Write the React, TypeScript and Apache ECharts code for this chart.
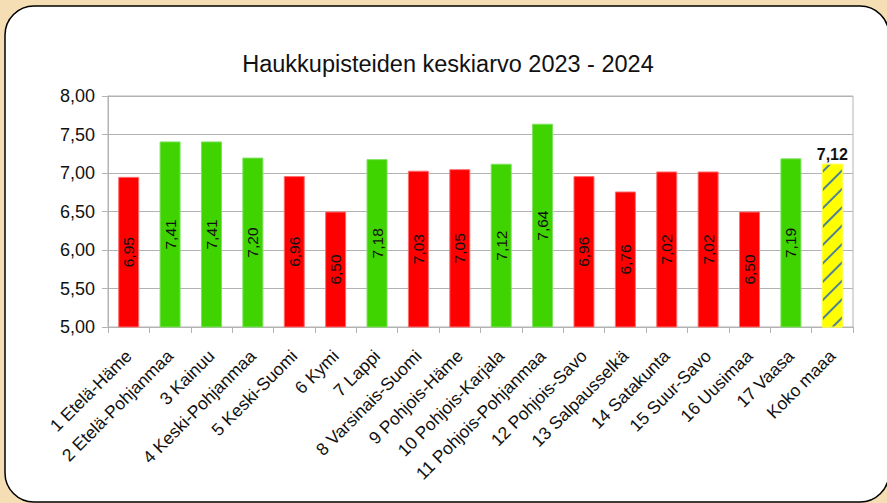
import React, { useEffect, useRef } from "react";
import * as echarts from "echarts";

const title = "Haukkupisteiden keskiarvo 2023 - 2024";
const categories = [
  "1 Etelä-Häme",
  "2 Etelä-Pohjanmaa",
  "3 Kainuu",
  "4 Keski-Pohjanmaa",
  "5 Keski-Suomi",
  "6 Kymi",
  "7 Lappi",
  "8 Varsinais-Suomi",
  "9 Pohjois-Häme",
  "10 Pohjois-Karjala",
  "11 Pohjois-Pohjanmaa",
  "12 Pohjois-Savo",
  "13 Salpausselkä",
  "14 Satakunta",
  "15 Suur-Savo",
  "16 Uusimaa",
  "17 Vaasa",
  "Koko maaa",
];
const values = [6.95, 7.41, 7.41, 7.2, 6.96, 6.5, 7.18, 7.03, 7.05, 7.12, 7.64, 6.96, 6.76, 7.02, 7.02, 6.5, 7.19, 7.12];
const yTicks = [5, 5.5, 6, 6.5, 7, 7.5, 8];

const FONT = "'Liberation Sans', Arial, sans-serif";
const fmt = (v: number) => v.toFixed(2).replace(".", ",");

export default function App() {
  const ref = useRef<HTMLDivElement>(null);
  useEffect(() => {
    document.body.style.margin = "0";
    if (!ref.current) return;
    const chart = echarts.init(ref.current, undefined, { renderer: "svg" });
    const lastIdx = categories.length - 1;
    const avg = values[lastIdx];
    const data = values.map((v, i) => {
      if (i === lastIdx) {
        return {
          value: v,
          itemStyle: {
            color: "#ffff00",
            borderColor: "#ffff40",
            borderWidth: 1,
            decal: {
              symbol: "rect",
              symbolSize: 1,
              color: "#4f8296",
              dashArrayX: [1, 0],
              dashArrayY: [1.2, 11],
              rotation: -Math.PI / 4,
            },
          },
          label: {
            show: true,
            position: "top",
            rotate: 0,
            distance: 1,
            fontSize: 16,
            fontWeight: "bold",
            color: "#111",
            fontFamily: FONT,
            formatter: (p: any) => fmt(p.value),
          },
        };
      }
      const green = v >= avg;
      return {
        value: v,
        itemStyle: {
          color: green ? "#3fd300" : "#ff0000",
          borderColor: green ? "#7fe060" : "#ff7070",
          borderWidth: 1,
        },
      };
    });
    chart.setOption({
      animation: false,
      backgroundColor: "#f5deb3",
      graphic: [
        {
          type: "rect",
          shape: { x: 5, y: 6, width: 884, height: 496, r: 29 },
          style: { fill: "#ffffff", stroke: "#000000", lineWidth: 1.5 },
          z: -10,
          silent: true,
        },
      ],
      title: {
        text: title,
        left: 443,
        textAlign: "center",
        top: 47,
        textStyle: { fontSize: 23.5, fontWeight: "normal", color: "#111", fontFamily: FONT },
      },
      grid: {
        left: 108,
        right: 34,
        top: 96,
        bottom: 176,
        show: true,
        borderColor: "#b3b3b3",
        borderWidth: 1,
        backgroundColor: "transparent",
        containLabel: false,
      },
      xAxis: {
        type: "category",
        data: categories,
        axisLine: { lineStyle: { color: "#b3b3b3", width: 1 } },
        axisTick: { show: true, length: 6, alignWithLabel: false, lineStyle: { color: "#b3b3b3" } },
        axisLabel: {
          interval: 0,
          rotate: 45,
          fontSize: 17.5,
          color: "#111",
          fontFamily: FONT,
          margin: 26,
        },
      },
      yAxis: {
        type: "value",
        min: yTicks[0],
        max: yTicks[yTicks.length - 1],
        interval: 0.5,
        axisLine: { show: true, lineStyle: { color: "#b3b3b3" } },
        axisTick: { show: true, length: 6, lineStyle: { color: "#b3b3b3" } },
        splitLine: { show: true, lineStyle: { color: "#b3b3b3", width: 1 } },
        axisLabel: {
          fontSize: 18,
          color: "#111",
          fontFamily: FONT,
          margin: 13,
          formatter: (v: number) => fmt(v),
        },
      },
      series: [
        {
          type: "bar",
          data,
          barWidth: 21,
          label: {
            show: true,
            position: "inside",
            rotate: 90,
            fontSize: 15.5,
            color: "#111",
            fontFamily: FONT,
            formatter: (p: any) => fmt(p.value),
          },
        },
      ],
    });
    return () => chart.dispose();
  }, []);
  return <div ref={ref} style={{ width: 887, height: 503 }} />;
}
